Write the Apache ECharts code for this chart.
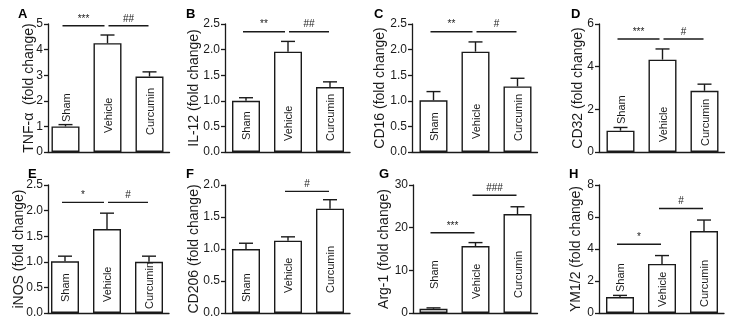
<!DOCTYPE html>
<html>
<head>
<meta charset="utf-8">
<script src="https://cdn.jsdelivr.net/npm/echarts@6/dist/echarts.min.js"></script>
<style>html,body{margin:0;padding:0;background:#fff;}</style>
</head>
<body>
<div id="main" style="width:732px;height:323px;"></div>
<script>
// groups on every panel
const groups = ['Sham', 'Vehicle', 'Curcumin'];

// panel A..H : mean fold change, SEM and significance marks [from, to, y, text]
const tnfMean = [1.0, 4.25, 2.95];
const tnfErr = [0.07, 0.32, 0.18];
const tnfSig = [[0, 1, 4.93, '***'], [1, 2, 4.93, '##']];

const il12Mean = [1.0, 1.96, 1.27];
const il12Err = [0.06, 0.2, 0.1];
const il12Sig = [[0, 1, 2.35, '**'], [1, 2, 2.35, '##']];

const cd16Mean = [1.01, 1.96, 1.28];
const cd16Err = [0.17, 0.19, 0.16];
const cd16Sig = [[0, 1, 2.35, '**'], [1, 2, 2.35, '#']];

const cd32Mean = [1.0, 4.33, 2.87];
const cd32Err = [0.15, 0.5, 0.31];
const cd32Sig = [[0, 1, 5.3, '***'], [1, 2, 5.3, '#']];

const inosMean = [1.01, 1.64, 1.0];
const inosErr = [0.1, 0.31, 0.11];
const inosSig = [[0, 1, 2.16, '*'], [1, 2, 2.16, '#']];

const cd206Mean = [1.0, 1.13, 1.63];
const cd206Err = [0.09, 0.06, 0.14];
const cd206Sig = [[1, 2, 1.9, '#']];

const arg1Mean = [1.0, 15.7, 23.2];
const arg1Err = [0.2, 0.8, 1.7];
const arg1Sig = [[0, 1, 18.8, '***'], [1, 2, 27.6, '###']];

const ymMean = [1.0, 3.07, 5.12];
const ymErr = [0.1, 0.52, 0.69];
const ymSig = [[0, 1, 4.3, '*'], [1, 2, 6.53, '#']];

// y axis: max and tick step per panel
const yMax = [5, 2.5, 2.5, 6, 2.5, 2.0, 30, 8];
const yStep = [1, 0.5, 0.5, 2, 0.5, 0.5, 10, 2];
const yDecimals = [0, 1, 1, 0, 1, 1, 0, 0];

const letters = ['A', 'B', 'C', 'D', 'E', 'F', 'G', 'H'];
const yTitles = [
  'TNF-\u03b1  (fold change)', 'IL-12 (fold change)', 'CD16 (fold change)', 'CD32 (fold change)',
  'iNOS (fold change)', 'CD206 (fold change)', 'Arg-1 (fold change)', 'YM1/2 (fold change)'
];

const means = [tnfMean, il12Mean, cd16Mean, cd32Mean, inosMean, cd206Mean, arg1Mean, ymMean];
const errs = [tnfErr, il12Err, cd16Err, cd32Err, inosErr, cd206Err, arg1Err, ymErr];
const sigs = [tnfSig, il12Sig, cd16Sig, cd32Sig, inosSig, cd206Sig, arg1Sig, ymSig];

// layout (pixels)
const axisX = [48, 225, 412, 599, 48, 225, 413, 599];
const firstGap = [17.5, 21, 21.5, 21.5, 17, 21, 20.5, 21]; // y axis -> first bar centre
const BAND = 42, END_PAD = 20;
const nameGap = [12, 24, 25, 14, 22, 24, 22, 16];
const letterPos = [[18, 8], [186, 8], [374, 8], [571, 8], [28, 168], [186, 168], [379, 168], [569, 168]];
// distance of each rotated group label from the x axis
const labelLift = [
  [30, 19, 17], [12, 11, 11], [11, 13, 11], [28, 10, 6],
  [11, 11, 4], [11, 20, 20], [24, 14, 15], [21, 6, 6]
];

const FONT = 'Arial, "Liberation Sans", sans-serif';
const INK = '#1a1a1a';

const grids = [], xAxes = [], yAxes = [], series = [], graphics = [];

for (let p = 0; p < 8; p++) {
  const row = p < 4 ? 0 : 1;
  grids.push({
    left: axisX[p],
    top: row === 0 ? 24 : 185,
    width: firstGap[p] + 2 * BAND + END_PAD,
    height: 128
  });
  xAxes.push({
    type: 'value',
    gridIndex: p,
    min: -firstGap[p] / BAND,
    max: groups.length - 1 + END_PAD / BAND,
    splitLine: { show: false },
    axisLine: { show: true, lineStyle: { color: INK, width: 1.3 } },
    axisTick: { show: false },
    axisLabel: { show: false }
  });
  const dec = yDecimals[p];
  yAxes.push({
    type: 'value',
    gridIndex: p,
    min: 0,
    max: yMax[p],
    interval: yStep[p],
    name: yTitles[p],
    nameLocation: 'middle',
    nameRotate: 90,
    nameGap: nameGap[p],
    nameMoveOverlap: false,
    nameTextStyle: { fontFamily: FONT, fontSize: 14, color: INK },
    splitLine: { show: false },
    axisLine: { show: true, onZero: false, lineStyle: { color: INK, width: 1.3 } },
    axisTick: { show: true, length: 4, lineStyle: { color: INK, width: 1.3 } },
    axisLabel: {
      margin: 5,
      fontFamily: FONT,
      fontSize: 12,
      color: INK,
      formatter: v => v.toFixed(dec)
    }
  });

  series.push({
    type: 'bar',
    xAxisIndex: p,
    yAxisIndex: p,
    data: means[p].map((m, i) => [i, m]),
    barWidth: 28,
    itemStyle: { color: '#fff', borderColor: INK, borderWidth: 1.4 },
    silent: true,
    z: 2
  });

  // error bars (upper SEM)
  series.push({
    type: 'custom',
    xAxisIndex: p,
    yAxisIndex: p,
    data: means[p].map((m, i) => [i, m, errs[p][i]]),
    z: 3,
    renderItem: (params, api) => {
      const i = api.value(0), m = api.value(1), e = api.value(2);
      const base = api.coord([i, m]);
      const top = api.coord([i, m + e]);
      const st = { stroke: INK, lineWidth: 1.4 };
      return {
        type: 'group',
        children: [
          { type: 'line', shape: { x1: base[0], y1: base[1], x2: top[0], y2: top[1] }, style: st },
          { type: 'line', shape: { x1: top[0] - 7, y1: top[1], x2: top[0] + 7, y2: top[1] }, style: st }
        ]
      };
    }
  });

  // significance lines
  const sg = sigs[p];
  series.push({
    type: 'custom',
    xAxisIndex: p,
    yAxisIndex: p,
    data: sg.map(s => [s[0], s[1], s[2]]),
    z: 4,
    renderItem: (params, api) => {
      const s = sg[params.dataIndex];
      const a = api.coord([s[0], s[2]]);
      const b = api.coord([s[1], s[2]]);
      // leave a gap where two marks at the same height meet
      const joinsLeft = sg.some(o => o !== s && o[1] === s[0] && o[2] === s[2]);
      const joinsRight = sg.some(o => o !== s && o[0] === s[1] && o[2] === s[2]);
      const x0 = a[0] - 3 + (joinsLeft ? 4 : 0);
      const x1 = b[0] - 1 - (joinsRight ? 2 : 0);
      return {
        type: 'group',
        children: [
          { type: 'line', shape: { x1: x0, y1: a[1], x2: x1, y2: a[1] }, style: { stroke: INK, lineWidth: 1.4 } },
          {
            type: 'text', x: (x0 + x1) / 2, y: a[1] - 2,
            style: { text: s[3], fill: INK, fontFamily: FONT, fontSize: 10, align: 'center', verticalAlign: 'bottom' }
          }
        ]
      };
    }
  });

  // rotated group labels
  series.push({
    type: 'custom',
    xAxisIndex: p,
    yAxisIndex: p,
    data: groups.map((g, i) => [i, 0]),
    z: 5,
    renderItem: (params, api) => {
      const i = api.value(0);
      const pt = api.coord([i, 0]);
      return {
        type: 'text',
        x: pt[0] + 1,
        y: pt[1] - labelLift[p][i],
        rotation: Math.PI / 2,
        style: { text: groups[i], fill: INK, fontFamily: FONT, fontSize: 11, align: 'left', verticalAlign: 'middle' }
      };
    }
  });

  graphics.push({
    type: 'text',
    left: letterPos[p][0],
    top: letterPos[p][1],
    style: { text: letters[p], fill: '#000', font: 'bold 13px ' + FONT }
  });
}

const chart = echarts.init(document.getElementById('main'), null, { renderer: 'canvas' });
chart.setOption({
  animation: false,
  backgroundColor: '#fff',
  grid: grids,
  xAxis: xAxes,
  yAxis: yAxes,
  series: series,
  graphic: graphics
});
</script>
</body>
</html>
